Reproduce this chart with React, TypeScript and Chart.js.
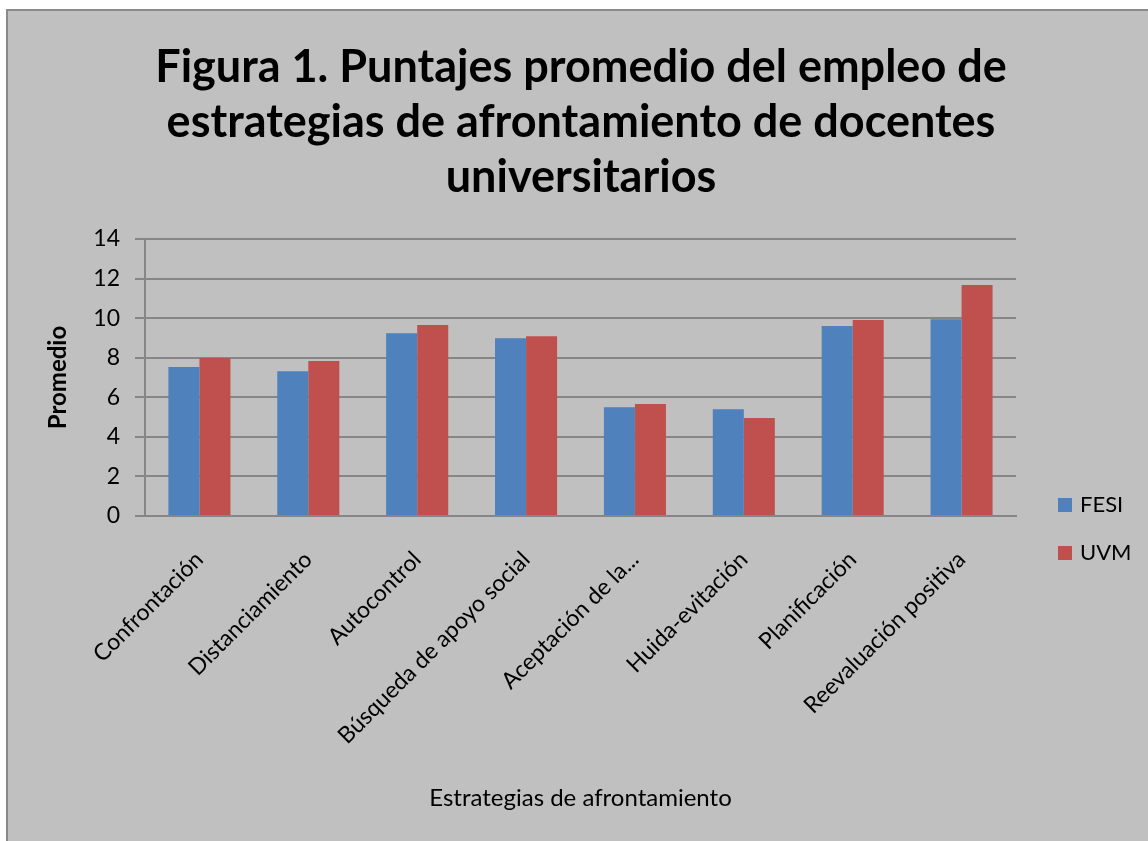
import React, { useEffect, useRef } from "react";
import { Chart, registerables } from "chart.js";

Chart.register(...registerables);

const categories = [
  "Confrontación",
  "Distanciamiento",
  "Autocontrol",
  "Búsqueda de apoyo social",
  "Aceptación de la...",
  "Huida-evitación",
  "Planificación",
  "Reevaluación positiva",
];
const fesi = [7.53, 7.32, 9.24, 8.99, 5.5, 5.4, 9.6, 9.95];
const uvm = [7.98, 7.83, 9.65, 9.09, 5.66, 4.95, 9.9, 11.67];
const titleLines = [
  "Figura 1. Puntajes promedio del empleo de",
  "estrategias de afrontamiento de docentes",
  "universitarios",
];
const yTicks = [0, 2, 4, 6, 8, 10, 12, 14];

const FONT = "Lato, 'Open Sans', sans-serif";
const W = 1140;
const H = 830;

const overlay = {
  id: "overlay",
  afterDraw(chart: any) {
    const ctx = chart.ctx;
    ctx.save();
    ctx.fillStyle = "#000";
    ctx.textAlign = "center";
    ctx.textBaseline = "middle";
    ctx.font = `bold 45px ${FONT}`;
    titleLines.forEach((t, i) => ctx.fillText(t, 573, 56 + i * 55));
    // legend
    const ds = chart.data.datasets;
    ctx.font = `22px ${FONT}`;
    ctx.textAlign = "left";
    ds.forEach((d: any, i: number) => {
      const y = 494 + i * 48;
      ctx.fillStyle = d.backgroundColor;
      ctx.fillRect(1050, y - 7, 14, 14);
      ctx.fillStyle = "#000";
      ctx.fillText(d.label, 1072, y);
    });
    ctx.restore();
  },
};

export default function App() {
  const ref = useRef<HTMLCanvasElement>(null);
  useEffect(() => {
    const chart = new Chart(ref.current!, {
      type: "bar",
      data: {
        labels: categories,
        datasets: [
          { label: "FESI", data: fesi, backgroundColor: "#4f81bd", categoryPercentage: 0.57, barPercentage: 1 },
          { label: "UVM", data: uvm, backgroundColor: "#c0504d", categoryPercentage: 0.57, barPercentage: 1 },
        ],
      },
      options: {
        animation: false,
        responsive: false,
        maintainAspectRatio: false,
        layout: { padding: { top: 228, left: 36, right: 132, bottom: 28 } },
        plugins: { legend: { display: false }, title: { display: false }, tooltip: { enabled: false } },
        scales: {
          x: {
            grid: { display: false },
            border: { display: true, color: "#868686", width: 2 },
            ticks: {
              color: "#000",
              font: { family: FONT, size: 23 },
              minRotation: 45,
              maxRotation: 45,
              autoSkip: false,
              padding: 22,
            },
            title: {
              display: true,
              text: "Estrategias de afrontamiento",
              color: "#000",
              font: { family: FONT, size: 24 },
              padding: 0,
            },
            afterFit(scale: any) {
              scale.height = 297;
            },
          },
          y: {
            min: 0,
            max: 14,
            afterBuildTicks(scale: any) {
              scale.ticks = yTicks.map((v) => ({ value: v }));
            },
            grid: { color: "#868686", lineWidth: 2, tickLength: 10 },
            border: { display: true, color: "#868686", width: 2 },
            ticks: { color: "#000", font: { family: FONT, size: 23 }, padding: 15 },
            title: {
              display: true,
              text: "Promedio",
              color: "#000",
              font: { family: FONT, size: 24, weight: "bold" },
              padding: 0,
            },
            afterFit(scale: any) {
              scale.width = 101;
            },
          },
        },
      },
      plugins: [overlay],
    });
    return () => chart.destroy();
  }, []);
  return (
    <div
      style={{
        position: "absolute",
        left: 6,
        top: 9,
        width: 1142,
        height: 832,
        background: "#c0c0c0",
        borderLeft: "2px solid #8a8a8a",
        borderTop: "2px solid #8a8a8a",
      }}
    >
      <canvas ref={ref} width={W} height={H} style={{ display: "block", width: W, height: H }} />
    </div>
  );
}
